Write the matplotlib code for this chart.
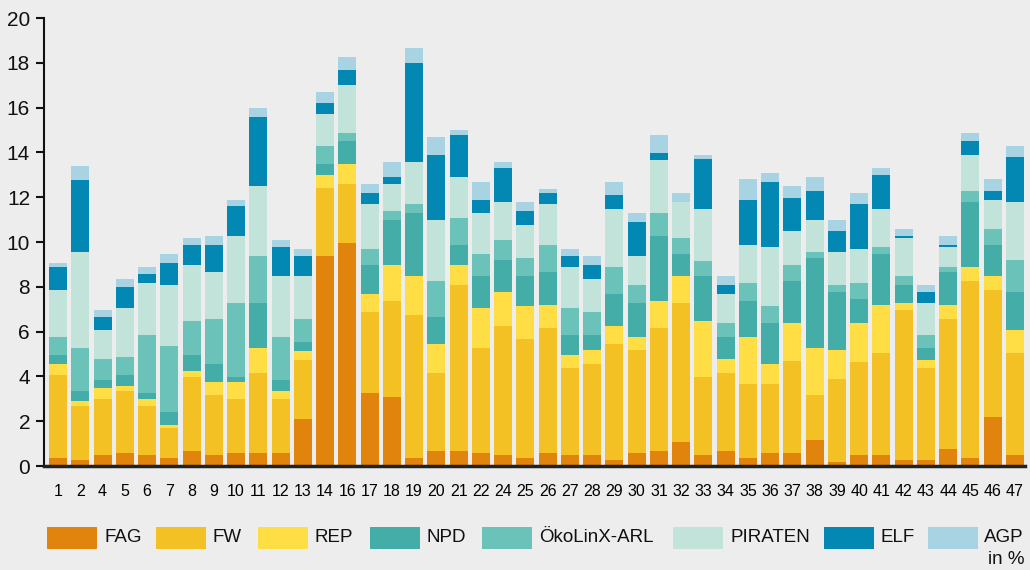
import numpy as np
import matplotlib
matplotlib.use("Agg")
import matplotlib.pyplot as plt
from matplotlib.patches import Rectangle

districts = ["1", "2", "4", "5", "6", "7", "8", "9", "10", "11", "12", "13", "14", "16",
             "17", "18", "19", "20", "21", "22", "24", "25", "26", "27", "28", "29", "30",
             "31", "32", "33", "34", "35", "36", "37", "38", "39", "40", "41", "42", "43",
             "44", "45", "46", "47"]

fag = [0.34, 0.25, 0.47, 0.56, 0.47, 0.34, 0.65, 0.47, 0.56, 0.56, 0.56, 2.08, 9.38, 9.96,
       3.28, 3.06, 0.34, 0.65, 0.65, 0.56, 0.47, 0.34, 0.56, 0.47, 0.47, 0.25, 0.56,
       0.65, 1.05, 0.47, 0.65, 0.34, 0.56, 0.56, 1.14, 0.16, 0.47, 0.47, 0.25, 0.25,
       0.74, 0.34, 2.17, 0.47]
fw = [3.74, 2.41, 2.50, 2.81, 2.19, 1.34, 3.34, 2.72, 2.41, 3.61, 2.41, 2.67, 3.02, 2.62,
      3.60, 4.31, 6.41, 3.52, 7.44, 4.72, 5.79, 5.34, 5.61, 3.92, 4.10, 5.21, 4.63,
      5.52, 6.23, 3.52, 3.52, 3.34, 3.12, 4.14, 2.01, 3.74, 4.19, 4.59, 6.72, 4.14,
      5.83, 7.92, 5.69, 4.59]
rep = [0.49, 0.22, 0.49, 0.22, 0.31, 0.17, 0.27, 0.58, 0.80, 1.11, 0.40, 0.40, 0.58, 0.89,
       0.81, 1.61, 1.74, 1.29, 0.89, 1.78, 1.51, 1.47, 1.03, 0.58, 0.62, 0.80, 0.58,
       1.20, 1.21, 2.49, 0.62, 2.09, 0.89, 1.69, 2.13, 1.29, 1.73, 2.14, 0.31, 0.36,
       0.63, 0.63, 0.63, 1.02]
npd = [0.40, 0.49, 0.40, 0.49, 0.31, 0.54, 0.71, 0.80, 0.22, 2.00, 0.49, 0.40, 0.49, 1.03,
       1.29, 2.00, 2.80, 1.20, 0.89, 1.43, 1.43, 1.34, 1.46, 0.89, 0.67, 1.43, 1.51,
       2.90, 0.98, 2.01, 0.98, 1.60, 1.82, 1.87, 4.01, 2.58, 1.07, 2.27, 0.81, 0.53,
       1.46, 2.89, 1.38, 1.69]
oeko = [0.80, 1.91, 0.93, 0.80, 2.58, 2.98, 1.51, 2.00, 3.29, 2.10, 1.91, 1.02, 0.80, 0.35,
        0.71, 0.40, 0.40, 1.60, 1.20, 0.98, 0.89, 0.80, 1.21, 1.20, 1.02, 1.20, 0.81,
        1.02, 0.71, 0.66, 0.62, 0.81, 0.76, 0.72, 0.26, 0.32, 0.72, 0.31, 0.40, 0.58,
        0.23, 0.49, 0.71, 1.43]
piraten = [2.09, 4.27, 1.29, 2.18, 2.32, 2.72, 2.50, 2.09, 2.99, 3.11, 2.72, 1.92, 1.43, 2.14,
           2.00, 1.20, 1.87, 2.72, 1.82, 1.82, 1.69, 1.47, 1.82, 1.83, 1.47, 2.58, 1.29,
           2.36, 1.60, 2.32, 1.30, 1.69, 2.63, 1.51, 1.43, 1.46, 1.51, 1.69, 1.69, 1.42,
           0.89, 1.60, 1.29, 2.58]
elf = [1.03, 3.21, 0.58, 0.94, 0.40, 0.98, 0.89, 1.21, 1.33, 3.07, 1.29, 0.89, 0.49, 0.71,
       0.49, 0.31, 4.41, 2.89, 1.87, 0.58, 1.51, 0.62, 0.49, 0.49, 0.63, 0.62, 1.51,
       0.31, 0.00, 2.22, 0.40, 2.00, 2.89, 1.47, 1.29, 0.94, 2.00, 1.51, 0.09, 0.49,
       0.09, 0.63, 0.40, 2.00]
agp = [0.18, 0.62, 0.31, 0.35, 0.31, 0.40, 0.31, 0.40, 0.27, 0.40, 0.31, 0.31, 0.49, 0.58,
       0.40, 0.67, 0.71, 0.80, 0.23, 0.80, 0.27, 0.40, 0.18, 0.31, 0.40, 0.58, 0.40,
       0.80, 0.40, 0.18, 0.40, 0.93, 0.40, 0.53, 0.62, 0.49, 0.49, 0.31, 0.31, 0.32,
       0.40, 0.35, 0.53, 0.49]

parties = ["FAG", "FW", "REP", "NPD", "ÖkoLinX-ARL", "PIRATEN", "ELF", "AGP"]
series = [fag, fw, rep, npd, oeko, piraten, elf, agp]
colors = ["#E1840D", "#F3C124", "#FFDE45", "#45ADA7", "#6BC2B8", "#C2E3DA", "#0388B3", "#A7D3E3"]

bg = "#EDEDED"
ink = "#111111"
plt.rcParams["font.family"] = ["Liberation Sans", "DejaVu Sans"]

W, H = 1030, 570
fig = plt.figure(figsize=(W / 100, H / 100), dpi=100, facecolor=bg)
ax = fig.add_axes([44 / W, 104 / H, 981 / W, 448 / H], facecolor=bg)

x = np.arange(len(districts))
bottom = np.zeros(len(districts))
for name, vals, c in zip(parties, series, colors):
    v = np.array(vals)
    ax.bar(x, v, 0.81, bottom=bottom, color=c, label=name, linewidth=0)
    bottom += v

ax.set_xlim(-0.63, len(districts) - 1 + 0.45)
ax.set_ylim(0, 20)
ax.set_yticks(np.arange(0, 21, 2))
ax.set_xticks(x)
ax.set_xticklabels(districts, fontsize=11.5, color="black")
ax.tick_params(axis="x", length=0, pad=13)
ax.tick_params(axis="y", length=6, width=1.5, pad=4, labelsize=15, color=ink,
               labelcolor=ink)
for s in ["top", "right"]:
    ax.spines[s].set_visible(False)
ax.spines["left"].set_linewidth(1.5)
ax.spines["left"].set_color(ink)
ax.spines["bottom"].set_linewidth(2.5)
ax.spines["bottom"].set_color("#222222")

# legend row drawn by hand to follow the reference spacing
patch_x = [47, 156, 258, 370, 482, 673, 824, 928]
for px, name, c in zip(patch_x, parties, colors):
    fig.add_artist(Rectangle((px / W, 1 - 549 / H), 50 / W, 22 / H,
                             transform=fig.transFigure, facecolor=c, edgecolor="none"))
    if name == "AGP":
        fig.text(1024 / W, 1 - 538 / H, name, ha="right", va="center", fontsize=13.5, color=ink)
    else:
        fig.text((px + 57) / W, 1 - 538 / H, name, ha="left", va="center", fontsize=13.5, color=ink)
fig.text(1024 / W, 1 - 559 / H, "in %", ha="right", va="center", fontsize=13.5, color=ink)

fig.savefig("out.png", dpi=100, facecolor=bg)
